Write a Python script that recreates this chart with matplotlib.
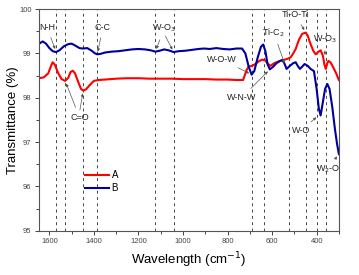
import matplotlib.pyplot as plt
from matplotlib.ticker import MultipleLocator

plt.rcParams["font.family"] = ["Liberation Sans", "DejaVu Sans"]

# wavenumber (cm-1) and transmittance (%) for sample A (red)
wn_a = [1646, 1625, 1605, 1590, 1585, 1575, 1560, 1545, 1529, 1515, 1505, 1495,
        1485, 1470, 1458, 1448, 1435, 1420, 1400, 1380, 1350, 1300, 1250, 1200,
        1150, 1100, 1050, 1000, 950, 900, 850, 800, 760, 730, 715, 705, 690, 675,
        660, 645, 630, 618, 607, 590, 570, 550, 530, 517, 505, 494, 480, 465, 449,
        440, 430, 424, 414, 404, 394, 382, 372, 365, 359, 352, 347, 338, 329, 315, 300]
tr_a = [98.44, 98.46, 98.55, 98.75, 98.80, 98.74, 98.55, 98.42, 98.38, 98.45, 98.58, 98.61,
        98.55, 98.35, 98.20, 98.16, 98.19, 98.28, 98.38, 98.40, 98.41, 98.43, 98.44, 98.44,
        98.43, 98.43, 98.43, 98.42, 98.42, 98.42, 98.41, 98.41, 98.40, 98.40, 98.62, 98.70,
        98.72, 98.76, 98.82, 98.86, 98.84, 98.76, 98.72, 98.78, 98.82, 98.85, 98.88, 98.91,
        99.00, 99.10, 99.30, 99.44, 99.47, 99.40, 99.25, 99.17, 99.05, 98.98, 99.03, 99.07,
        98.95, 98.75, 98.65, 98.78, 98.83, 98.80, 98.72, 98.58, 98.40]

# sample B (blue)
wn_b = [1646, 1630, 1615, 1600, 1585, 1570, 1555, 1535, 1515, 1500, 1485, 1465,
        1450, 1430, 1410, 1395, 1385, 1370, 1350, 1320, 1290, 1260, 1230, 1200,
        1170, 1145, 1124, 1105, 1085, 1065, 1042, 1020, 990, 960, 930, 905, 880,
        850, 820, 790, 760, 735, 720, 705, 692, 680, 665, 650, 640, 630, 620, 610,
        595, 580, 565, 554, 545, 535, 520, 505, 494, 485, 475, 465, 454, 440, 427,
        412, 400, 390, 382, 372, 362, 352, 342, 330, 318, 308, 300]
tr_b = [99.22, 99.27, 99.22, 99.12, 99.05, 99.03, 99.07, 99.16, 99.21, 99.22, 99.18, 99.12,
        99.11, 99.12, 99.06, 99.00, 98.98, 98.99, 99.02, 99.04, 99.05, 99.07, 99.09, 99.10,
        99.09, 99.07, 99.04, 99.06, 99.09, 99.07, 99.03, 99.05, 99.06, 99.08, 99.10, 99.11,
        99.10, 99.12, 99.10, 99.09, 99.11, 99.11, 99.00, 98.70, 98.52, 98.60, 98.90, 99.15,
        99.20, 99.05, 98.75, 98.64, 98.70, 98.78, 98.83, 98.85, 98.78, 98.65, 98.72, 98.78,
        98.80, 98.72, 98.65, 98.70, 98.76, 98.72, 98.65, 98.60, 98.20, 97.75, 97.60, 97.90,
        98.20, 98.31, 98.20, 97.80, 97.30, 96.95, 96.73]

# band positions marked with dashed lines
bands = [1570, 1529, 1448, 1385, 1124, 1042, 688, 638, 524, 448, 398, 358]

fig = plt.figure(figsize=(3.59, 2.75), dpi=100)
ax = fig.add_axes([0.109, 0.161, 0.835, 0.806])

for b in bands:
    ax.axvline(b, color="#444444", linestyle=(0, (3, 3.5)), linewidth=0.7)

ax.plot(wn_a, tr_a, color="#ff0000", linewidth=1.5, label="A")
ax.plot(wn_b, tr_b, color="#0000a0", linewidth=1.5, label="B")

ax.set_xlim(1646, 300)
ax.set_ylim(95, 100)
ax.xaxis.set_major_locator(MultipleLocator(200))
ax.xaxis.set_minor_locator(MultipleLocator(100))
ax.yaxis.set_major_locator(MultipleLocator(1))
ax.yaxis.set_minor_locator(MultipleLocator(0.5))
ax.tick_params(which="both", direction="out", labelsize=5.5, colors="#444444",
               width=0.7, pad=2.5)
ax.tick_params(which="major", length=3)
ax.tick_params(which="minor", length=2)
for s in ax.spines.values():
    s.set_color("#555555")
    s.set_linewidth(0.8)

ax.set_xlabel("Wavelength (cm$^{-1}$)", fontsize=9.5)
ax.set_ylabel("Transmittance (%)", fontsize=9.5)
ax.xaxis.set_label_coords(0.5, -0.09)
ax.yaxis.set_label_coords(-0.068, 0.5)

arrow = dict(arrowstyle="-|>", color="#555555", lw=0.5, mutation_scale=4)
tk = dict(fontsize=6.5, ha="center", va="center", color="#222222")


def note(text, xy, xytext):
    ax.annotate(text, xy=xy, xytext=xytext, arrowprops=arrow, **tk)


note("N-H", (1570, 99.04), (1610, 99.58))
note("C-C", (1385, 98.98), (1360, 99.58))
note("W-O$_3$", (1124, 99.04), (1085, 99.56))
ax.annotate("", xy=(1042, 99.03), xytext=(1085, 99.45), arrowprops=arrow)
note("C=O", (1529, 98.38), (1465, 97.56))
ax.annotate("", xy=(1448, 98.16), xytext=(1465, 97.66), arrowprops=arrow)
note("W-O-W", (692, 98.52), (827, 98.87))
note("W-N-W", (610, 98.64), (737, 98.0))
note("Ti-C$_2$", (540, 98.72), (593, 99.47))
note("Ti-O-Ti", (449, 99.47), (495, 99.87))
note("W-O$_3$", (362, 98.9), (364, 99.32))
note("W-O", (392, 97.6), (471, 97.25))
note("W$_2$-O", (302, 96.73), (346, 96.39))

ax.legend(loc="lower left", bbox_to_anchor=(0.125, 0.13), frameon=False,
          fontsize=7, handlelength=2.4, labelspacing=0.3, handletextpad=0.3)

fig.savefig("out.png", dpi=100)
